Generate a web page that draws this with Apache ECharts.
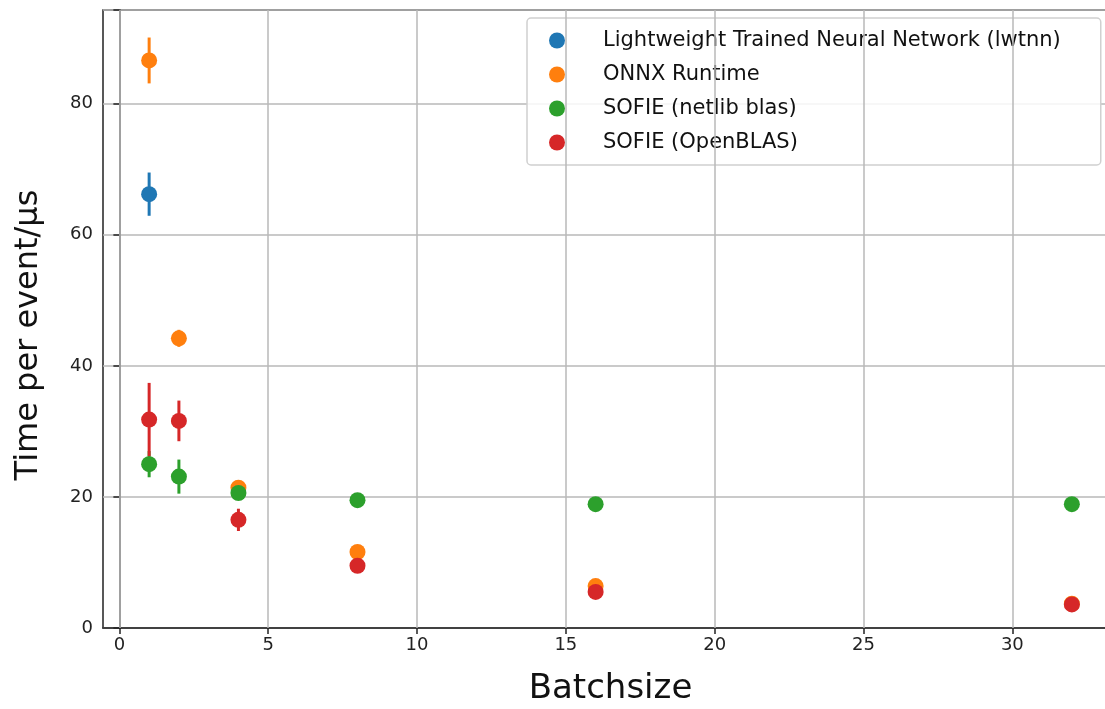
<!DOCTYPE html>
<html>
<head>
<meta charset="utf-8">
<script src="https://cdn.jsdelivr.net/npm/echarts@6/dist/echarts.min.js"></script>
<style>
  html, body { margin: 0; padding: 0; background: #fff; overflow: hidden; }
  #chart { width: 1105px; height: 709px; }
</style>
</head>
<body>
<div id="chart"></div>
<script>
// batch sizes on the x axis
const batchSizes = [1, 2, 4, 8, 16, 32];
const xTicks = [0, 5, 10, 15, 20, 25, 30];
const yTicks = [0, 20, 40, 60, 80];

// time per event (μs) and its uncertainty, per backend
const lwtnnTime = [66.2];
const lwtnnErr = [3.3];
const onnxTime = [86.6, 44.2, 21.4, 11.6, 6.4, 3.7];
const onnxErr = [3.5, 1.3, 0.6, 0.3, 0.2, 0.1];
const netlibTime = [25.0, 23.1, 20.6, 19.5, 18.9, 18.9];
const netlibErr = [2.0, 2.6, 0.8, 0.3, 0.2, 0.2];
const openblasTime = [31.8, 31.6, 16.5, 9.5, 5.5, 3.6];
const openblasErr = [5.6, 3.1, 1.7, 0.4, 0.2, 0.2];

const backends = [
  { name: 'Lightweight Trained Neural Network (lwtnn)', color: '#1f77b4', y: lwtnnTime, e: lwtnnErr },
  { name: 'ONNX Runtime', color: '#ff7f0e', y: onnxTime, e: onnxErr },
  { name: 'SOFIE (netlib blas)', color: '#2ca02c', y: netlibTime, e: netlibErr },
  { name: 'SOFIE (OpenBLAS)', color: '#d62728', y: openblasTime, e: openblasErr }
];

const font = 'DejaVu Sans';
const series = [];
backends.forEach(function (b) {
  const rows = b.y.map(function (v, i) { return [batchSizes[i], v, b.e[i]]; });
  // error bar first, marker on top of it
  series.push({
    name: b.name + ' err',
    type: 'custom',
    data: rows,
    encode: { x: 0, y: 1 },
    renderItem: function (params, api) {
      const x = api.value(0), y = api.value(1), e = api.value(2);
      const lo = api.coord([x, y - e]);
      const hi = api.coord([x, y + e]);
      return {
        type: 'line',
        shape: { x1: lo[0], y1: lo[1], x2: hi[0], y2: hi[1] },
        style: { stroke: b.color, lineWidth: 3 }
      };
    }
  });
  series.push({
    name: b.name,
    type: 'scatter',
    data: rows.map(function (r) { return [r[0], r[1]]; }),
    symbol: 'circle',
    symbolSize: 16,
    itemStyle: { color: b.color, opacity: 1 }
  });
});

// vertical grid lines at the x tick positions
series.push({
  type: 'scatter',
  data: [],
  silent: true,
  z: 0,
  markLine: {
    silent: true,
    symbol: 'none',
    label: { show: false },
    lineStyle: { color: '#b8b8b8', width: 1.5, type: 'solid' },
    data: xTicks.map(function (t) { return { xAxis: t }; })
  }
});

const chart = echarts.init(document.getElementById('chart'), null, { renderer: 'canvas' });
chart.setOption({
  animation: false,
  backgroundColor: '#fff',
  textStyle: { fontFamily: font },
  grid: {
    left: 103, top: 10, width: 1015, height: 618,
    outerBoundsMode: 'none',
    show: true, borderColor: '#222', borderWidth: 1.5, backgroundColor: 'transparent'
  },
  legend: {
    data: backends.map(function (b) { return b.name; }),
    orient: 'vertical',
    left: 527, top: 18,
    padding: [12, 40, 12, 22],
    itemGap: 13,
    itemWidth: 16, itemHeight: 16,
    icon: 'circle',
    backgroundColor: 'rgba(255,255,255,0.85)',
    borderColor: '#d0d0d0', borderWidth: 1.5, borderRadius: 4,
    textStyle: { fontFamily: font, fontSize: 21, color: '#111', padding: [0, 0, 0, 33] }
  },
  xAxis: {
    type: 'value',
    min: -0.55, max: 33.55,
    name: 'Batchsize',
    nameLocation: 'middle',
    nameGap: 44,
    nameTextStyle: { fontFamily: font, fontSize: 34, color: '#111' },
    axisLine: { show: true, onZero: false, lineStyle: { color: '#222', width: 1.5 } },
    axisTick: { show: true, length: 6, customValues: xTicks, lineStyle: { color: '#222', width: 1.5 } },
    axisLabel: { customValues: xTicks, fontFamily: font, fontSize: 18, color: '#222', margin: 8 },
    splitLine: { show: false }
  },
  yAxis: {
    type: 'value',
    min: 0, max: 94.3,
    interval: 20,
    name: 'Time per event/μs',
    nameLocation: 'middle',
    nameGap: 58,
    nameTextStyle: { fontFamily: font, fontSize: 32, color: '#111', padding: [0, 32, 0, 0] },
    axisLine: { show: true, lineStyle: { color: '#222', width: 1.5 } },
    axisTick: { show: true, length: 6, lineStyle: { color: '#222', width: 1.5 } },
    axisLabel: {
      fontFamily: font, fontSize: 18, color: '#222', margin: 10,
      formatter: function (v) { return yTicks.indexOf(v) >= 0 ? String(v) : ''; }
    },
    splitLine: { show: true, lineStyle: { color: '#b8b8b8', width: 1.5 } }
  },
  series: series
});
</script>
</body>
</html>
